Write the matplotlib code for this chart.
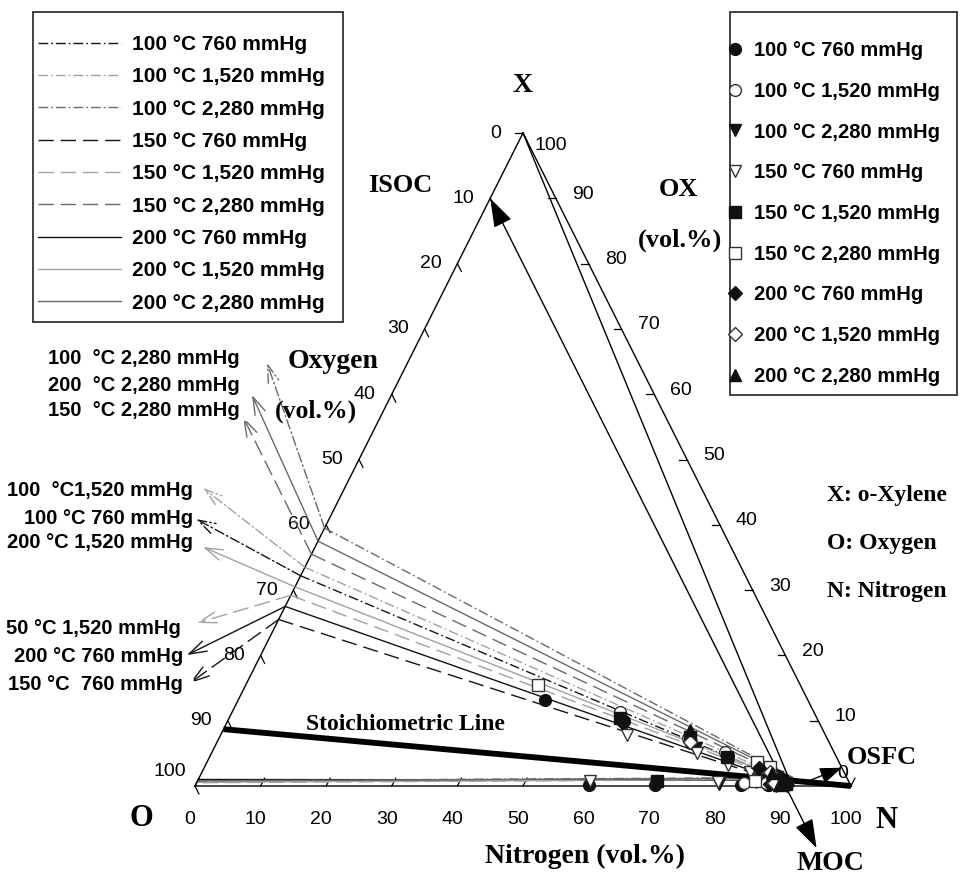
import numpy as np
import matplotlib
matplotlib.use("Agg")
import matplotlib.pyplot as plt
from matplotlib.patches import Rectangle
from matplotlib.font_manager import FontProperties

# ---------------- data ----------------
temps = [100, 100, 100, 150, 150, 150, 200, 200, 200]
pressures = [760, 1520, 2280, 760, 1520, 2280, 760, 1520, 2280]
series_labels = [f"{t} °C {p:,} mmHg" for t, p in zip(temps, pressures)]

# oxygen % where each upper-limit line meets the O-X axis (N = 0)
ufl_O_edge = [67.8, 66.5, 60.5, 74.5, 70.8, 64.5, 72.5, 69.5, 62.5]
# nose of each flammability envelope (N %, X %)
nose_N = [89.0, 89.5, 90.5, 88.0, 89.0, 90.0, 88.5, 89.5, 90.5]
nose_X = [1.0, 1.1, 1.3, 0.9, 1.0, 1.2, 0.9, 1.0, 1.2]
# lower-limit line X % at N = 0
lfl_X_edge = [0.9, 0.6, 0.8, 0.9, 0.5, 0.7, 1.0, 0.6, 0.8]

# measured upper-limit points (N %, X %)
ufl_pts_N = [[46.8, 60.4, 72.3, 79.0, 89.0],
             [59.2, 71.5, 78.2, 86.0],
             [60.9, 73.5, 79.3, 88.0],
             [62.0, 74.0, 79.6, 83.5],
             [59.6, 71.7, 78.9, 87.5],
             [44.6, 83.8, 86.2],
             [60.2, 84.5, 89.8],
             [72.1, 86.5],
             [71.2, 87.0]]
ufl_pts_X = [[13.2, 9.9, 6.6, 4.6, 1.0],
             [11.3, 7.4, 5.2, 2.6],
             [9.0, 5.8, 3.8, 1.4],
             [7.8, 5.05, 3.2, 2.1],
             [10.4, 7.5, 4.4, 1.6],
             [15.5, 3.7, 2.9],
             [9.8, 2.8, 0.7],
             [6.7, 2.2],
             [8.6, 2.0]]
# measured lower-limit points (N %, X %)
lfl_pts_N = [[60.0, 70.0, 83.2, 87.2],
             [83.5, 86.8],
             [79.7, 88.5],
             [59.8, 79.5, 85.2],
             [70.0, 90.0],
             [85.0],
             [87.5, 90.2],
             [88.0],
             [89.0]]
lfl_pts_X = [[0.1, 0.1, 0.2, 0.2],
             [0.4, 0.4],
             [0.3, 0.0],
             [0.8, 0.6, 0.6],
             [0.8, 0.3],
             [0.8],
             [0.3, 0.1],
             [0.5],
             [0.2]]

stoich_X = 8.7          # stoichiometric o-xylene/oxygen, % on O-X axis
moc_O = 10.0            # constant-oxygen (ISOC / MOC) line
xyl_line_end_N = 91.0   # line from X vertex to the N axis
osfc_X = 2.8            # OSFC on X-N axis
osfc_start = (92.8, 0.6)

anno_texts = ["100  °C 2,280 mmHg", "200  °C 2,280 mmHg", "150  °C 2,280 mmHg",
              "100  °C1,520 mmHg", "100 °C 760 mmHg", "200 °C 1,520 mmHg",
              "50 °C 1,520 mmHg", "200 °C 760 mmHg", "150 °C  760 mmHg"]
anno_series = [2, 8, 5, 1, 0, 7, 4, 6, 3]

ticks = list(range(0, 101, 10))

# ---------------- styles / layout ----------------
W, H = 960, 877
O_PX, N_PX, BASE, APEX = 195, 851, 786, 133
SPAN, HGT = N_PX - O_PX, BASE - APEX

col = {760: "#141414", 1520: "#a2a2a2", 2280: "#6a6a6a"}
dash = {100: (0, (7, 2.2, 1.2, 2.2)), 150: (0, (11, 5)), 200: "-"}
mk = ["o", "o", "v", "v", "s", "s", "D", "D", "^"]
filled = [True, False, True, False, True, False, True, False, True]

sans = "Liberation Sans"
serif = "Liberation Serif"


def P(x, y):
    return (x / W, 1 - y / H)


def tern(N, X):
    N = np.asarray(N, float) / 100.0
    X = np.asarray(X, float) / 100.0
    return N + 0.5 * X, X


fig = plt.figure(figsize=(W / 100, H / 100), dpi=100)
ax = fig.add_axes([0, 0, 1, 1])
ax.set_xlim(-O_PX / SPAN, (W - O_PX) / SPAN)
ax.set_ylim((BASE - H) / HGT, BASE / HGT)
ax.axis("off")

# triangle
ax.plot(*tern([0, 100, 0, 0], [0, 0, 100, 0]), color="k", lw=1.0, zorder=3)

# ticks and tick labels
tl = 1.2
tfp = dict(family=sans, size=14)
for v in ticks:
    # oxygen axis (left edge)
    ax.plot(*tern([0, tl], [100 - v, 100 - v - tl]), color="k", lw=0.9)
    off = (-25, 14) if v == 100 else (-27, 0)
    ax.annotate(str(v), xy=tern(0, 100 - v), xytext=off, textcoords="offset pixels",
                ha="center", va="center", **tfp)
    # xylene axis (right edge)
    ax.plot(*tern([100 - v, 100 - v - tl], [v, v]), color="k", lw=0.9)
    if v == 0:
        off = (-8, 13)
    elif v == 100:
        off = (28, -12)
    else:
        off = (27, 4)
    ax.annotate(str(v), xy=tern(100 - v, v), xytext=off, textcoords="offset pixels",
                ha="center", va="center", **tfp)
    # nitrogen axis (bottom)
    ax.plot(*tern([v, v], [0, tl]), color="k", lw=0.9)
    ax.annotate(str(v), xy=tern(v, 0), xytext=(-5, -34), textcoords="offset pixels",
                ha="center", va="center", **tfp)

# series envelopes (upper line -> nose -> lower line)
line_handles = []
for i in range(9):
    c = col[pressures[i]]
    ls = dash[temps[i]]
    Ns = [0, nose_N[i], 0]
    Xs = [100 - ufl_O_edge[i], nose_X[i], lfl_X_edge[i]]
    h, = ax.plot(*tern(Ns, Xs), color=c, lw=1.0, linestyle=ls, zorder=2,
                 label=series_labels[i])
    line_handles.append(h)

# stoichiometric line
ax.plot(*tern([0, 100], [stoich_X, 0]), color="k", lw=4.2, solid_capstyle="butt", zorder=4)

# line from X vertex
ax.plot(*tern([0, xyl_line_end_N], [100, 0]), color="k", lw=1.0, zorder=3)

# ISOC / MOC constant-oxygen line with arrows
ax.annotate("", xy=tern(0, 100 - moc_O), xytext=tern(100 - moc_O + 9.5, -9.5),
            arrowprops=dict(arrowstyle="<|-|>,head_length=0.9,head_width=0.3",
                            color="k", lw=1.0, shrinkA=0, shrinkB=0,
                            mutation_scale=20), zorder=5)

# OSFC arrow
ax.annotate("", xy=tern(100 - osfc_X, osfc_X), xytext=tern(*osfc_start),
            arrowprops=dict(arrowstyle="-|>,head_length=0.75,head_width=0.28",
                            color="k", lw=1.0, shrinkA=0, shrinkB=0,
                            mutation_scale=18), zorder=5)

# markers
marker_handles = []
for i in range(9):
    fc = "#111111" if filled[i] else "white"
    ec = "#111111" if filled[i] else "#333333"
    ms = 7 if mk[i] == "D" else 8.5
    h, = ax.plot(*tern(ufl_pts_N[i], ufl_pts_X[i]), ls="none", marker=mk[i], ms=ms,
                 mfc=fc, mec=ec, mew=1.0, zorder=6, label=series_labels[i])
    ax.plot(*tern(lfl_pts_N[i], lfl_pts_X[i]), ls="none", marker=mk[i], ms=ms,
            mfc=fc, mec=ec, mew=1.0, zorder=6)
    marker_handles.append(h)

# legend boxes
fig.add_artist(Rectangle(P(33, 322), 310 / W, 310 / H, transform=fig.transFigure,
                         fill=False, ec="#333333", lw=1.3))
fig.add_artist(Rectangle(P(730, 395), 227 / W, 383 / H, transform=fig.transFigure,
                         fill=False, ec="#333333", lw=1.3))

lfp = FontProperties(family=sans, weight="bold", size=15)
fig.legend(handles=line_handles, loc="upper left", bbox_to_anchor=P(38, 35),
           frameon=False, prop=lfp, handlelength=4.0, handletextpad=0.5,
           labelspacing=0.64, borderpad=0, borderaxespad=0)
rfp = FontProperties(family=sans, weight="bold", size=14.5)
fig.legend(handles=marker_handles, loc="upper left", bbox_to_anchor=P(727, 41),
           frameon=False, prop=rfp, handlelength=0.8, handletextpad=0.55,
           labelspacing=1.08, borderpad=0, borderaxespad=0)

# left annotations
anno_text_pos = [(240, 358), (240, 386), (240, 411), (193, 490), (193, 518),
                 (193, 543), (181, 628), (183, 657), (183, 685)]
anno_tips = [(267, 363), (252, 395), (243, 417), (203, 488), (196, 519),
             (203, 547), (197, 623), (187, 655), (190, 683)]
afp = FontProperties(family=sans, weight="bold", size=14.5)
for txt, si, (tx, ty), (px, py) in zip(anno_texts, anno_series, anno_text_pos, anno_tips):
    fig.text(*P(tx, ty), txt, ha="right", va="center", fontproperties=afp)
    ax.annotate("", xy=P(px, py), xycoords="figure fraction",
                xytext=tern(0, 100 - ufl_O_edge[si]), textcoords="data",
                arrowprops=dict(arrowstyle="->,head_length=0.7,head_width=0.22",
                                color=col[pressures[si]], lw=1.0,
                                linestyle=dash[temps[si]], shrinkA=0, shrinkB=0,
                                mutation_scale=18))

# serif bold labels
def stext(x, y, s, size, ha="center"):
    fig.text(*P(x, y), s, ha=ha, va="center", family=serif, weight="bold", size=size)

stext(523, 85, "X", 20)
stext(400, 186, "ISOC", 19)
stext(678, 190, "OX", 19)
stext(680, 240, "(vol.%)", 19)
stext(333, 361, "Oxygen", 20)
stext(316, 411, "(vol.%)", 18.5)
stext(585, 856, "Nitrogen (vol.%)", 20)
stext(141, 819, "O", 22)
stext(886, 820, "N", 22)
stext(830, 864, "MOC", 20)
stext(882, 757, "OSFC", 19)
stext(405, 725, "Stoichiometric Line", 17)
stext(827, 495, "X: o-Xylene", 17, ha="left")
stext(827, 543, "O: Oxygen", 17, ha="left")
stext(827, 592, "N: Nitrogen", 17, ha="left")

fig.savefig("out.png", dpi=100, facecolor="white")
